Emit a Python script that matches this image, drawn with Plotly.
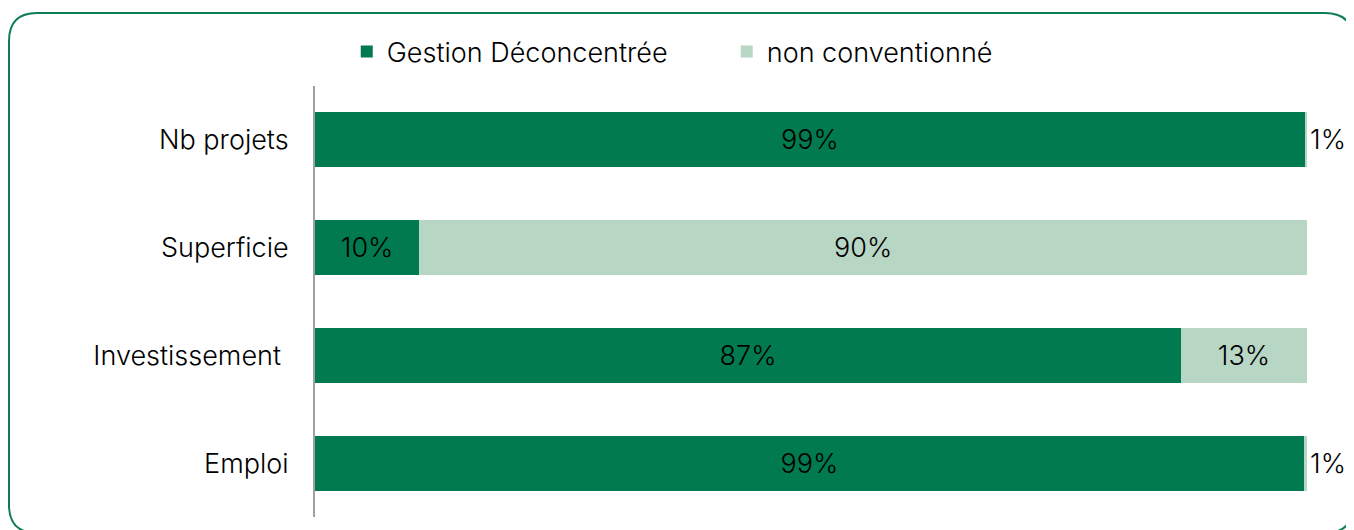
import plotly.graph_objects as go

categories = ["Nb projets", "Superficie", "Investissement\u00a0", "Emploi"]
gestion = [99.8, 10.5, 87.3, 99.7]
non_conv = [0.2, 89.5, 12.7, 0.3]
gestion_labels = ["99%", "10%", "87%", "99%"]
non_conv_labels = ["1%", "90%", "13%", "1%"]

DARK = "#007A4E"
LIGHT = "#B8D6C4"
FONT = "Inter"
FS = 27

fig = go.Figure()
fig.add_trace(go.Bar(
    y=categories, x=gestion, orientation="h", name="Gestion Déconcentrée",
    marker=dict(color=DARK, line=dict(width=0)),
    text=gestion_labels, textposition="inside", insidetextanchor="middle",
    textfont=dict(color="black", size=FS, family=FONT, weight=300),
))
# small shares are labelled outside the bar, larger ones inside
fig.add_trace(go.Bar(
    y=categories, x=non_conv, orientation="h", name="non conventionné",
    marker=dict(color=LIGHT, line=dict(width=0)),
    text=[t if v > 5 else "" for t, v in zip(non_conv_labels, non_conv)],
    textposition="inside", insidetextanchor="middle",
    textfont=dict(color="black", size=FS, family=FONT, weight=300),
))
for c, g, v, t in zip(categories, gestion, non_conv, non_conv_labels):
    if v <= 5:
        fig.add_annotation(x=g + v, y=c, text=t, showarrow=False, xanchor="left",
                           xshift=1, font=dict(size=FS, color="black", family=FONT, weight=300))

# page has an 8px body margin: figure is drawn from (8, 8)
# plot area in page px: x 315..1307, y 86..517
pw, ph = 992.0, 431.0
x0, x1 = (9 - 315) / pw, (1353 - 315) / pw
y0, y1 = (517 - 533) / ph, (517 - 13) / ph
rx, ry = 28 / pw, 28 / ph
path = (f"M {x0},{y0 + ry} L {x0},{y1 - ry} Q {x0},{y1} {x0 + rx},{y1} "
        f"L {x1 - rx},{y1} Q {x1},{y1} {x1},{y1 - ry} "
        f"L {x1},{y0 + ry} Q {x1},{y0} {x1 - rx},{y0} "
        f"L {x0 + rx},{y0} Q {x0},{y0} {x0},{y0 + ry} Z")
fig.add_shape(type="path", path=path, xref="paper", yref="paper",
              line=dict(color="#0E7D52", width=2), layer="below")

fig.update_layout(
    barmode="stack", bargap=0.49,
    width=1346, height=522,
    margin=dict(l=307, r=47, t=78, b=13),
    paper_bgcolor="white", plot_bgcolor="white",
    font=dict(family=FONT, size=FS, color="black", weight=300),
    showlegend=True,
    legend=dict(orientation="h", x=0.032, xanchor="left", y=(517 - 52) / ph, yanchor="middle",
                font=dict(size=FS, weight=300), itemwidth=30, traceorder="normal",
                entrywidth=335, entrywidthmode="pixels"),
)
fig.update_xaxes(range=[0, 100], visible=False, fixedrange=True)
fig.update_yaxes(autorange="reversed", showline=True, linecolor="#A0A0A0", linewidth=2,
                 showgrid=False, ticks="", ticklabelstandoff=19,
                 tickfont=dict(size=FS, family=FONT, weight=300))

fig.write_html("out.html")
